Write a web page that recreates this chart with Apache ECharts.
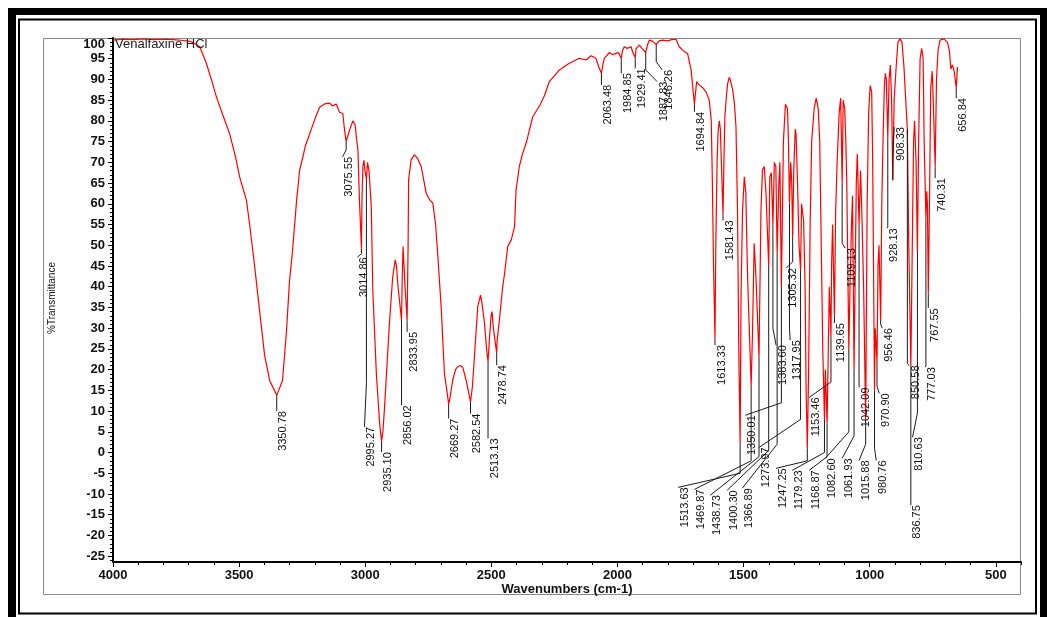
<!DOCTYPE html>
<html><head><meta charset="utf-8">
<script src="https://cdn.jsdelivr.net/npm/echarts@6/dist/echarts.min.js"></script>
<style>html,body{margin:0;padding:0;background:#fff}#c{width:1047px;height:617px}</style>
</head><body><div id="c"></div>
<script>
// ---- spectrum (wavenumber cm-1, %T) ----
const wavenumbers = [4000,3960,3920,3880,3840,3800,3760,3720,3695,3680,3656,3630,3610,3590,3565,3538,3515,3498,3471,3458,3439,3419,3399,3379,3360,3350.78,3344,3328,3312,3300,3288,3272,3260,3236,3201,3181,3161,3141,3130,3115,3102,3089,3082,3075.55,3068,3062,3049,3040,3034,3029,3023,3014.86,3013,3009,3005,3001,2995.27,2991,2985,2976,2970,2956,2943,2935.10,2930,2924,2904,2891,2881,2876,2870,2856.02,2854,2850,2846,2842,2833.95,2830,2828,2818,2805,2793,2778,2769,2758,2745,2732,2721,2712,2699,2686,2669.27,2666,2653,2642,2633,2622,2613,2600,2582.54,2575,2567,2554,2543,2537,2527,2519,2513.13,2507,2501,2497,2492,2478.74,2477,2468,2455,2448,2435,2421,2408,2402,2389,2377,2362,2349,2336,2309,2290,2270,2230,2191,2151,2124,2105,2085,2074,2063.48,2058,2052,2032,2020,2005,1996,1984.85,1980,1973,1961,1946,1939,1929.41,1926,1913,1903,1887.83,1880,1873,1860,1846.26,1835,1821,1800,1785,1768,1755,1735,1722,1708,1694.84,1686,1676,1662,1649,1636,1628,1624,1619,1613.33,1610,1605,1601,1596,1592,1588,1581.43,1578,1574,1568,1563,1557,1553,1543,1536,1530,1524,1519,1513.63,1510,1504,1497,1491,1484,1469.87,1464,1458,1451,1438.73,1431,1425,1418,1411,1400.30,1396,1390,1383.60,1378,1372,1366.89,1360,1356,1350.01,1342,1334,1326,1322,1317.95,1313,1309,1305.32,1301,1295,1292,1286,1280,1273.97,1270,1262,1256,1252,1247.25,1242,1236,1230,1220,1212,1204,1198,1192,1186,1179.23,1176,1173,1168.87,1164,1160,1153.46,1151,1147,1139.65,1135,1129,1121,1115,1109.13,1105,1099,1095,1091,1082.60,1078,1072,1068,1061.93,1057,1053,1049,1042.09,1036,1032,1024,1015.88,1010,1004,998,992,988,980.76,978,970.90,967,963,956.46,952,947,942,938,934,928.13,923,918,913,908.33,903,895,888,880,872,864,857,850.58,845,836.75,832,826,822,816,810.63,806,800,794,788,784,777.03,774,771,767.55,762,758,752,748,740.31,735,729,721,706,692,684,678,672,665,656.84,652];
const transmittance = [99.5,99.7,99.6,99.8,99.6,99.7,99.6,99.4,99.2,98.8,97.9,93.9,90,85.8,81.5,77,71.5,66.5,60.9,54.9,45.2,34.3,23.5,17.4,15,13.8,14.2,17.4,29.5,41.6,48.8,60.9,68.1,74.2,80.2,83.3,84.1,84.3,83.6,84.1,82.1,81.8,77.8,75,75.4,77.8,80,79,75.4,73,61,49,61,69.3,70.5,68,66,70,68,59.3,39.2,19.2,7.1,2.7,5,10.3,31.3,42.4,46.5,45,40,32,40,49.7,49.7,40,31.9,50,65.8,70.6,71.8,71,69,66,62.5,61,60.2,55,47.3,35.2,19.1,11.8,12.5,17.5,20,20.7,21,20.5,17.5,12.2,16,23.1,35.2,38,36,31.2,25,21.9,28,33,34,30,24,27,32,40,43,49.7,51.3,54.5,63.3,69,72,74.6,77.8,81,83.6,86,89.5,92.3,93.9,95.1,94.7,95.7,95.1,93,91.5,93.5,95.1,96.5,96,96.3,96.5,95.1,97,97.9,97.5,97.9,96.5,95.3,97.5,98.3,97.5,96.5,98.5,99.5,99.2,98.4,99.3,99.5,99.3,99.6,99.7,97.9,96.7,96.3,92.3,84,89.5,88.7,88,87,85,80,66.5,45,27.5,50,70,77.5,80,78,70,57.5,70,81,86,89,90.5,90,87.5,84,78.6,58.5,25,2,38,58.5,66.5,62.5,42.4,16,30.4,50.5,42.4,23,58.5,68.2,69,62.5,45,66.5,67.5,55,70,69,48,65,70,40,75,84,83,75,60,70,65,52,68,78,77,65,50,44,60,56,40,15,1,20,55,75,83,85.5,83,75,50,25,8,20,15,7,25,40,28,45,55,33,58,70,82,85.5,65,85,83,76,66,25,40,55,62,20,45,65,72,55,68,60,40,8,60,82,88.5,87,70,15,30,22,45,50,32,60,75.5,88,91.5,90,76,90,93.5,85,65.7,85,93,99,99.8,99,93,85,78,50,20.6,45,75,80,70,48.4,75,95,97.5,95,75,56.5,63,60,38.4,65,88,92,85,69,90,97,99.5,99.8,99,97,92.5,93.5,92,88,93];

// ---- peak annotations ----
const peakLabels = ['3350.78','3075.55','3014.86','2995.27','2935.10','2856.02','2833.95','2669.27','2582.54','2513.13','2478.74','2063.48','1984.85','1929.41','1887.83','1846.26','1694.84','1613.33','1581.43','1513.63','1469.87','1438.73','1400.30','1366.89','1350.01','1383.60','1317.95','1305.32','1273.97','1247.25','1179.23','1168.87','1153.46','1139.65','1109.13','1082.60','1061.93','1042.09','1015.88','980.76','970.90','956.46','928.13','908.33','850.58','836.75','810.63','777.03','767.55','740.31','656.84'];
const peakT      = [13.8,75,49,66,2.7,32,31.9,11.8,12.2,21.9,24,91.5,95.1,95.3,96.5,98.4,84,27.5,57.5,2,16,23,45,48,40,55,60,52,44,1,8,7,28,33,65,25,20,55,8,15,22,32,76,65.7,78,20.6,48.4,56.5,38.4,69,88];
const leaderBendT= [10,73,48,16.6,0.1,11.4,29.1,8.2,9.4,3.4,21.1,88.7,91.5,92.7,92.3,94.3,82.2,25.9,56,-5,-2,-1,0.5,2,12,30,30,46,8,-2,0,-1,17,31.5,50.5,5,4,18,2,1,16,31,54.5,71.3,21.5,-12.7,9.5,21,35,66.2,85.5];
const labelWn    = [3350.78,3090,3031,3003,2935.10,2856.02,2833.95,2669.27,2582.54,2513.13,2478.74,2063.48,1984.85,1929.41,1843,1823,1694.84,1613.33,1581.43,1759,1695,1632,1565,1505,1493,1371,1315,1331,1438,1371,1307,1240,1240,1141,1097,1176,1109,1042,1042,974,962,950,930.6,903,843.5,836.75,830,780,768.4,740.31,656.84];
const labelT     = [10,71.3,47.1,6.2,0.1,11.4,29.1,8.2,9.4,3.4,21.1,88.7,91.5,92.7,89.5,92.3,82.2,25.9,56,-8.4,-8.9,-10.3,-9.1,-8.6,9,25.9,27.1,44.5,1.25,-3.8,-4.3,-4.3,13.3,31.2,49.3,-1.4,-1.4,15.7,-1.9,-1.9,14.3,30,54.1,78.5,21,-12.7,3.7,20.6,34.8,66.2,85.5];

// ---- axes ----
const xMajorTicks = [500,1000,1500,2000,2500,3000,3500,4000];
const xMinorTicks = [400,500,600,700,800,900,1000,1100,1200,1300,1400,1500,1600,1700,1800,1900,2000,2100,2200,2300,2400,2500,2600,2700,2800,2900,3000,3100,3200,3300,3400,3500,3600,3700,3800,3900,4000];
const yMajorTicks = [-25,-20,-15,-10,-5,0,5,10,15,20,25,30,35,40,45,50,55,60,65,70,75,80,85,90,95,100];
const yMinorTicks = [];
for (let v = -26; v <= 100; v++) yMinorTicks.push(v);

const titleText = 'Venalfaxine HCl';
const xTitle = 'Wavenumbers (cm-1)';
const yTitle = '%Transmittance';

const chart = echarts.init(document.getElementById('c'), null, {renderer: 'canvas'});
const FONT = '"Liberation Sans", Arial, sans-serif';
const spectrum = wavenumbers.map((w, i) => [w, transmittance[i]]);
const annot = peakLabels.map((s, i) => [parseFloat(s), peakT[i], leaderBendT[i], labelWn[i], labelT[i]]);

chart.setOption({
  animation: false,
  backgroundColor: '#fff',
  grid: {left: 113, top: 38, right: 26, bottom: 55, containLabel: false},
  xAxis: [{
    type: 'value', min: 400, max: 4000, inverse: true, position: 'bottom',
    axisLine: {show: true, onZero: false, lineStyle: {color: '#000', width: 2}},
    axisTick: {show: true, inside: false, length: 5, customValues: xMajorTicks, lineStyle: {color: '#000', width: 1}},
    axisLabel: {show: true, customValues: xMajorTicks, margin: 7, color: '#111', fontFamily: FONT, fontSize: 13, fontWeight: 'bold',
      formatter: v => String(v)},
    splitLine: {show: false}
  }, {
    type: 'value', min: 400, max: 4000, inverse: true, position: 'bottom', offset: 0,
    axisLine: {show: false, onZero: false},
    axisTick: {show: true, inside: false, length: 3, customValues: xMinorTicks, lineStyle: {color: '#000', width: 1}},
    axisLabel: {show: false}, splitLine: {show: false}
  }],
  yAxis: [{
    type: 'value', min: -26.4, max: 100, position: 'left',
    axisLine: {show: true, onZero: false, lineStyle: {color: '#000', width: 2}},
    axisTick: {show: true, inside: false, length: 5, customValues: yMajorTicks, lineStyle: {color: '#000', width: 1}},
    axisLabel: {show: true, customValues: yMajorTicks, margin: 8, color: '#111', fontFamily: FONT, fontSize: 13, fontWeight: 'bold',
      formatter: v => (v === 100 ? '' : String(v))},
    splitLine: {show: false}
  }, {
    type: 'value', min: -26.4, max: 100, position: 'left', offset: 0,
    axisLine: {show: false, onZero: false},
    axisTick: {show: true, inside: false, length: 3, customValues: yMinorTicks, lineStyle: {color: '#000', width: 1}},
    axisLabel: {show: false}, splitLine: {show: false}
  }],
  series: [{
    type: 'line', data: spectrum, xAxisIndex: 0, yAxisIndex: 0,
    showSymbol: false, symbol: 'none', smooth: false,
    lineStyle: {color: '#ff0000', width: 1.2}, z: 3, clip: true
  }, {
    type: 'custom', data: annot, xAxisIndex: 0, yAxisIndex: 0, z: 4, clip: false,
    encode: {x: 0, y: 1},
    renderItem: function (params, api) {
      const i = params.dataIndex;
      const p0 = api.coord([api.value(0), api.value(1)]);
      const p1 = api.coord([api.value(0), api.value(2)]);
      const p2 = api.coord([api.value(3), api.value(4)]);
      return {type: 'group', children: [
        {type: 'polyline', shape: {points: [p0, p1, p2]}, style: {stroke: '#1a1a1a', lineWidth: 1, fill: null}},
        {type: 'text', x: p2[0] + 1, y: p2[1], rotation: Math.PI / 2,
          style: {text: peakLabels[i], fill: '#111', font: '11px ' + FONT, align: 'right', verticalAlign: 'top'}}
      ]};
    }
  }],
  graphic: [
    {type: 'rect', z: -10, shape: {x: 43.5, y: 38.5, width: 977, height: 556}, style: {fill: null, stroke: '#8a8a8a', lineWidth: 1}},
    {type: 'rect', shape: {x: 8, y: 8, width: 8, height: 609}, style: {fill: '#000'}},
    {type: 'rect', shape: {x: 8, y: 8, width: 1039, height: 7}, style: {fill: '#000'}},
    {type: 'rect', shape: {x: 1040, y: 8, width: 7, height: 609}, style: {fill: '#000'}},
    {type: 'rect', shape: {x: 19, y: 19.5, width: 1017, height: 594}, style: {fill: null, stroke: '#000', lineWidth: 2}},
    {type: 'text', x: 115, y: 44.5, style: {text: titleText, fill: '#222', font: '13px ' + FONT, verticalAlign: 'middle', align: 'left'}, z: 10},
    {type: 'text', x: 105, y: 44, style: {text: '100', fill: '#111', font: 'bold 13px ' + FONT, verticalAlign: 'middle', align: 'right'}, z: 10},
    {type: 'text', x: 567, y: 589, style: {text: xTitle, fill: '#111', font: 'bold 13px ' + FONT, verticalAlign: 'middle', align: 'center'}, z: 10},
    {type: 'text', x: 52, y: 298, rotation: Math.PI / 2, style: {text: yTitle, fill: '#111', font: '10px ' + FONT, verticalAlign: 'middle', align: 'center'}, z: 10}
  ]
});
</script>
</body></html>
